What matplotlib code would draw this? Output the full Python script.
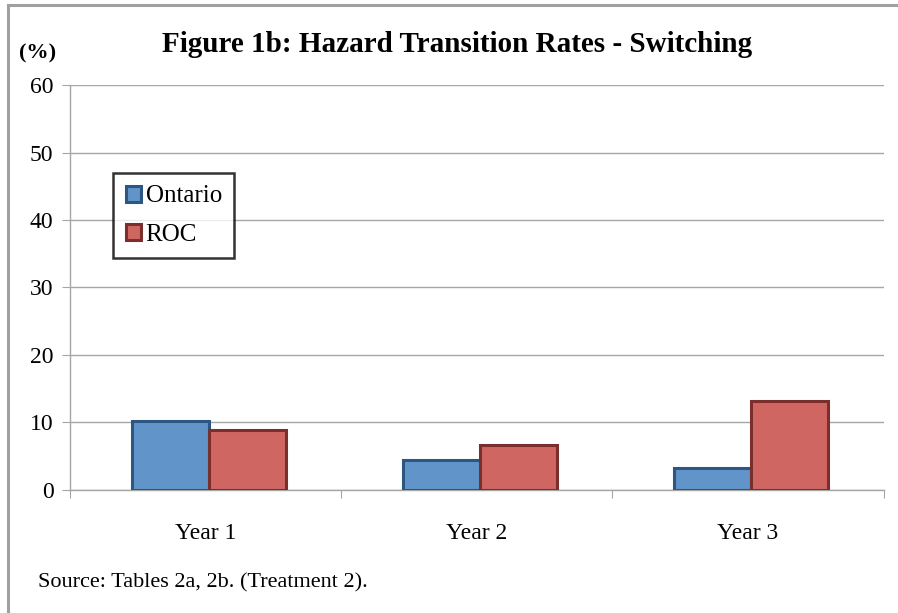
import numpy as np
import matplotlib.pyplot as plt
from matplotlib.lines import Line2D

plt.rcParams['font.family'] = ['Liberation Serif', 'DejaVu Serif']

# data
years = ['Year 1', 'Year 2', 'Year 3']
ontario = [10.2, 4.5, 3.2]
roc = [8.9, 6.6, 13.2]
yticks = [0, 10, 20, 30, 40, 50, 60]

blue_fill = '#6195CA'
blue_edge = '#2E5682'
red_fill = '#CF6661'
red_edge = '#7B2F2D'

fig = plt.figure(figsize=(8.98, 6.13), dpi=100)
# grey frame on top and left only (image is cropped on the other sides)
W, H = 898, 613
fig.lines.append(Line2D([8 / W, 1], [1 - 5 / H, 1 - 5 / H], transform=fig.transFigure,
                        color='#A0A0A0', linewidth=2.2))
fig.lines.append(Line2D([8 / W, 8 / W], [0, 1 - 5 / H], transform=fig.transFigure,
                        color='#A0A0A0', linewidth=2.2))

ax = fig.add_axes([0.078, 0.2007, 0.906, 0.6606])

x = np.arange(len(years))
w = 0.284
ax.bar(x - w / 2 + 0.012, ontario, w, color=blue_fill, edgecolor=blue_edge,
       linewidth=2.2, label='Ontario', zorder=3)
ax.bar(x + w / 2 + 0.012, roc, w, color=red_fill, edgecolor=red_edge,
       linewidth=2.2, label='ROC', zorder=3)

ax.set_xlim(-0.5, 2.5)
ax.set_ylim(0, 60)
ax.set_yticks(yticks)
ax.set_yticklabels([str(t) for t in yticks], fontsize=17)
ax.yaxis.grid(True, color='#A6A6A6', linewidth=1.0, zorder=0)
ax.set_axisbelow(True)

# category boundary ticks on x, labels in the middle
ax.set_xticks([-0.5, 0.5, 1.5, 2.5])
ax.set_xticklabels([])
ax.set_xticks(x, minor=True)
ax.set_xticklabels(years, minor=True, fontsize=17)
ax.tick_params(axis='x', which='minor', length=0, pad=24)
ax.tick_params(axis='x', which='major', length=6, color='#A6A6A6', direction='out')
ax.tick_params(axis='y', length=6, color='#A6A6A6', direction='out', pad=6)

for s in ['top', 'right']:
    ax.spines[s].set_visible(False)
for s in ['left', 'bottom']:
    ax.spines[s].set_color('#A6A6A6')
    ax.spines[s].set_linewidth(1.0)

leg = ax.legend(loc='upper left', bbox_to_anchor=(0.053, 0.783), fontsize=18,
                frameon=True, fancybox=False, handlelength=0.6, handleheight=0.6,
                handletextpad=0.2, labelspacing=0.65, borderpad=0.5,
                borderaxespad=0)
leg.get_frame().set_edgecolor('black')
leg.get_frame().set_linewidth(1.8)

fig.text(0.509, 0.928, 'Figure 1b: Hazard Transition Rates - Switching',
         ha='center', va='center', fontsize=21, fontweight='bold')
fig.text(0.042, 0.913, '(%)', ha='center', va='center', fontsize=16, fontweight='bold')
fig.text(0.042, 0.049, 'Source: Tables 2a, 2b. (Treatment 2).', ha='left',
         va='center', fontsize=16)

fig.savefig('out.png', dpi=100)
